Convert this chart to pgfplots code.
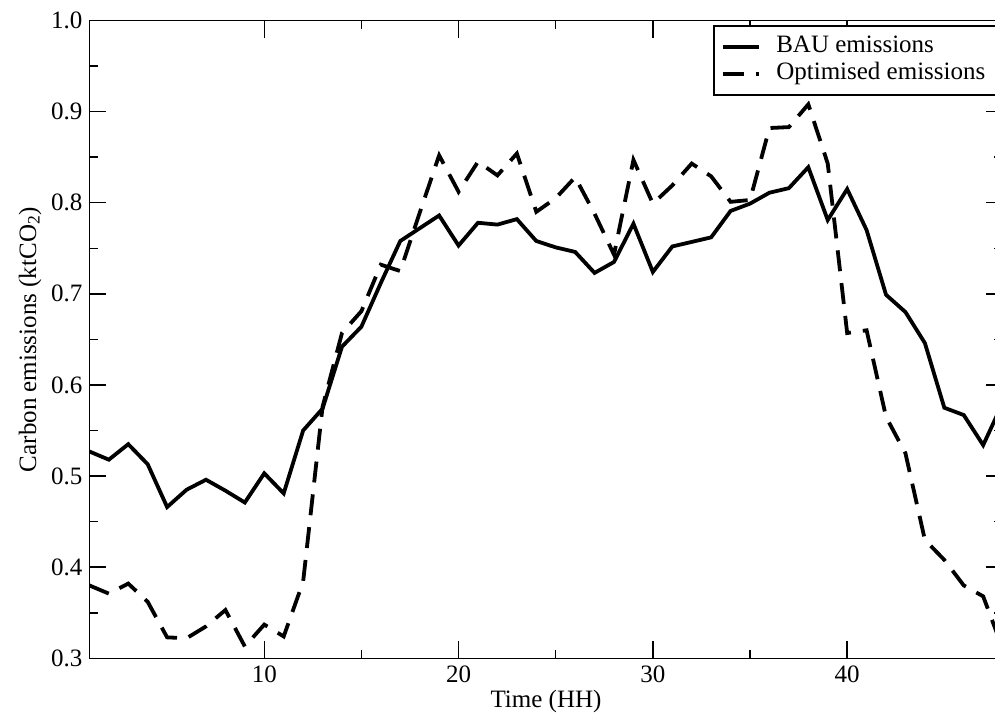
\documentclass[border=0pt]{standalone}
\usepackage{fontspec}
\setmainfont{Liberation Serif}
\usepackage{pgfplots}
\pgfplotsset{compat=1.18}
\usepackage{pgfplotstable}

\pgfplotstableread{
t v
1 0.527
2 0.518
3 0.535
4 0.513
5 0.466
6 0.485
7 0.496
8 0.484
9 0.471
10 0.503
11 0.481
12 0.550
13 0.574
14 0.642
15 0.664
16 0.712
17 0.758
18 0.772
19 0.786
20 0.753
21 0.778
22 0.776
23 0.782
24 0.758
25 0.751
26 0.746
27 0.723
28 0.735
29 0.777
30 0.724
31 0.752
32 0.757
33 0.762
34 0.791
35 0.799
36 0.811
37 0.816
38 0.839
39 0.781
40 0.815
41 0.770
42 0.699
43 0.680
44 0.646
45 0.575
46 0.567
47 0.534
48 0.580
}\bau

\pgfplotstableread{
t v
1 0.380
2 0.371
3 0.382
4 0.362
5 0.323
6 0.322
7 0.335
8 0.353
9 0.313
10 0.337
11 0.324
12 0.384
13 0.576
14 0.657
15 0.681
16 0.732
17 0.725
18 0.789
19 0.852
20 0.812
21 0.845
22 0.830
23 0.854
24 0.790
25 0.805
26 0.828
27 0.788
28 0.743
29 0.847
30 0.799
31 0.819
32 0.843
33 0.829
34 0.801
35 0.803
36 0.882
37 0.883
38 0.908
39 0.843
40 0.657
41 0.660
42 0.565
43 0.525
44 0.430
45 0.408
46 0.380
47 0.368
48 0.311
}\opt

\begin{document}
\begin{tikzpicture}
\begin{axis}[
  scale only axis,
  width=456.6pt, height=318.9pt,
  xmin=1, xmax=48, ymin=0.3, ymax=1.0,
  xtick={10,20,30,40},
  ytick={0.3,0.4,0.5,0.6,0.7,0.8,0.9,1.0},
  minor x tick num=1, minor y tick num=1,
  xtick pos=both, ytick pos=both,
  tick align=inside,
  major tick length=8.5pt, minor tick length=4.25pt,
  axis line style={line width=0.75pt},
  every tick/.style={line width=0.75pt, black},
  tick label style={font=\fontsize{12.5}{15}\selectfont},
  /pgf/number format/assume math mode=true,
  yticklabel style={/pgf/number format/fixed, /pgf/number format/fixed zerofill, /pgf/number format/precision=1},
  xlabel={Time (HH)},
  ylabel={Carbon emissions (ktCO\textsubscript{2})},
  label style={font=\fontsize{12.5}{15}\selectfont},
  xlabel style={yshift=3pt},
  ylabel style={yshift=-2pt},
  legend cell align=left,
  legend image code/.code={\draw[#1] (0pt,0pt) -- (18.25pt,0pt);},
  legend style={
    at={(rel axis cs:1,1)}, xshift=-2.25pt, yshift=-2.25pt,
    anchor=north east, draw=black, line width=0.75pt,
    font=\fontsize{12.5}{15}\selectfont,
    inner xsep=3.5pt, inner ysep=4.5pt, row sep=1.5pt,
    nodes={inner ysep=0pt, inner xsep=2.5pt, text height=9pt, text depth=3pt},
    /tikz/every odd column/.append style={column sep=5pt},
  },
]
\addplot[black, line width=1.9pt, line join=miter] table[x=t, y=v] {\bau};
\addlegendentry{BAU emissions}
\addplot[black, line width=1.9pt, dash pattern=on 10.5pt off 6pt] table[x=t, y=v] {\opt};
\addlegendentry{Optimised emissions}
\coordinate (SW) at (rel axis cs:0,0);
\end{axis}
\pgfresetboundingbox
\useasboundingbox ([shift={(-44.7pt,-30.35pt)}]SW) rectangle ([shift={(452.8pt,329.15pt)}]SW);
\end{tikzpicture}
\end{document}
